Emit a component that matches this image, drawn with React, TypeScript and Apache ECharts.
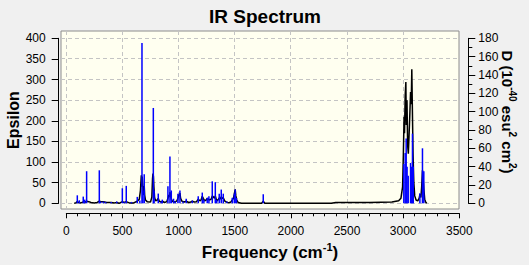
import React, { useEffect, useRef } from 'react';
import * as echarts from 'echarts';

// Broadened spectrum (Epsilon, left axis)
const curveX = [70, 85, 98, 110, 130, 151, 165, 181, 200, 220, 250, 275, 294, 310, 330, 360, 400, 430, 449, 470, 499, 515, 534, 560, 600, 632, 650, 660, 668, 672, 676, 681, 686, 690, 694, 698, 705, 720, 750, 762, 768, 772, 776, 780, 786, 795, 810, 819, 828, 845, 855, 875, 895, 905, 913, 918, 923, 928, 935, 945, 965, 985, 994, 1003, 1012, 1018, 1030, 1050, 1068, 1090, 1110, 1122, 1140, 1160, 1175, 1190, 1200, 1211, 1220, 1232, 1245, 1255, 1265, 1275, 1290, 1300, 1310, 1320, 1327, 1335, 1345, 1355, 1362, 1370, 1380, 1390, 1398, 1410, 1425, 1445, 1465, 1478, 1488, 1496, 1504, 1510, 1518, 1530, 1560, 1740, 1754, 1768, 2360, 2400, 2700, 2900, 2960, 2980, 2995, 3002, 3008, 3012, 3018, 3024, 3028, 3034, 3040, 3046, 3052, 3060, 3066, 3072, 3077, 3082, 3088, 3095, 3103, 3115, 3130, 3142, 3150, 3158, 3165, 3172, 3178, 3184, 3192, 3200, 3210];
const curveEps = [0, 1, 4, 2, 1, 3, 2, 5, 4, 2, 1, 2, 5, 4, 4, 2, 2, 1, 2, 0, 4, 2, 4, 1, 1, 5, 10, 30, 68, 40, 65, 45, 20, 30, 42, 20, 8, 4, 3, 15, 60, 72, 65, 40, 15, 6, 8, 12, 5, 3, 5, 2, 4, 12, 20, 15, 27, 20, 10, 5, 3, 6, 12, 20, 25, 12, 5, 3, 5, 2, 3, 5, 3, 4, 10, 6, 8, 17, 12, 6, 8, 12, 10, 8, 10, 18, 15, 12, 18, 10, 6, 10, 13, 10, 16, 12, 13, 6, 3, 1, 3, 8, 12, 22, 34, 18, 8, 2, 0, 0, 5, 0, 0, 2, 2, 3, 6, 12, 40, 120, 210, 170, 260, 294, 190, 250, 140, 120, 160, 220, 270, 240, 325, 230, 120, 50, 18, 8, 6, 12, 22, 14, 40, 80, 60, 35, 10, 3, 0];

// Stick spectrum (D, right axis)
const stickX = [98, 116, 151, 164, 181, 294, 305, 330, 350, 400, 449, 499, 515, 534, 580, 632, 655, 674, 682, 694, 775, 782, 819, 845, 855, 905, 923, 935, 955, 970, 994, 1012, 1040, 1068, 1122, 1175, 1211, 1225, 1255, 1270, 1300, 1327, 1340, 1362, 1380, 1398, 1430, 1478, 1496, 1504, 1515, 1754, 3006, 3018, 3027, 3035, 3045, 3066, 3072, 3083, 3090, 3149, 3172, 3184];
const stickD = [8.7, 3.3, 7.3, 4, 35, 36, 2, 2, 1.5, 1.5, 2, 16.4, 1.5, 19, 1.5, 7, 3, 175, 14, 31.6, 104, 14, 10.6, 2, 4, 18.5, 51, 14, 5, 2, 10.5, 14, 2, 5, 3, 7.6, 11.7, 4, 6, 7.6, 24, 23, 4, 10.5, 15, 10.5, 2, 6, 10.5, 15, 6, 9.8, 43, 55, 70.6, 40, 30, 44, 40, 76, 40, 11, 60, 35];

const FONT = '"Liberation Sans", Arial, sans-serif';
const plain = (v: number) => String(v);

export default function App() {
  const ref = useRef<HTMLDivElement>(null);
  useEffect(() => {
    document.body.style.margin = '0';
    document.body.style.background = '#f0f0f0';
    const chart = echarts.init(ref.current!, null, { renderer: 'svg' });
    const curveData = curveX.map((x, i) => [x, curveEps[i]]);
    const stickData = stickX.map((x, i) => [x, stickD[i]]);
    const dashed = { show: true, showMinLine: false, showMaxLine: false, lineStyle: { color: '#c4c4c4', type: [4, 3], width: 1 } };
    const option: any = {
      animation: false,
      backgroundColor: '#f0f0f0',
      textStyle: { fontFamily: FONT },
      title: {
        text: 'IR Spectrum', left: 260, top: 2, textAlign: 'center',
        textStyle: { fontSize: 19, fontWeight: 'bold', color: '#000', fontFamily: FONT },
      },
      grid: [
        { left: 61, top: 31, width: 398, height: 178, show: true, backgroundColor: '#fffff0', borderColor: '#8c8c8c', borderWidth: 1 },
        { left: 66.3, top: 38.3, width: 393, height: 165, show: false },
      ],
      xAxis: [
        { gridIndex: 0, type: 'value', min: -47, max: 3500, splitNumber: 7, axisLine: { show: false }, axisTick: { show: false }, axisLabel: { show: false }, splitLine: dashed },
        {
          gridIndex: 1, type: 'value', min: 0, max: 3500, interval: 500, position: 'bottom', offset: 10,
          axisLine: { show: true, onZero: false, lineStyle: { color: '#000', width: 1 } },
          axisTick: { show: true, length: 5, lineStyle: { color: '#000' } },
          minorTick: { show: true, splitNumber: 5, length: 3, lineStyle: { color: '#000' } },
          axisLabel: { color: '#000', fontSize: 12, margin: 12, fontFamily: FONT, formatter: plain },
          splitLine: { show: false },
        },
      ],
      yAxis: [
        { gridIndex: 0, type: 'value', min: -14.5, max: 417, splitNumber: 9, axisLine: { show: false }, axisTick: { show: false }, axisLabel: { show: false }, splitLine: dashed },
        {
          gridIndex: 1, type: 'value', min: 0, max: 400, interval: 50, position: 'left', offset: 7.6,
          axisLine: { show: true, onZero: false, lineStyle: { color: '#000', width: 1 } },
          axisTick: { show: true, length: 7, lineStyle: { color: '#000' } },
          axisLabel: { color: '#000', fontSize: 12, margin: 13, fontFamily: FONT, formatter: plain },
          splitLine: { show: false },
        },
        {
          gridIndex: 1, type: 'value', min: 0, max: 180, interval: 20, position: 'right', offset: 9,
          axisLine: { show: true, onZero: false, lineStyle: { color: '#000', width: 1 } },
          axisTick: { show: true, length: 7, lineStyle: { color: '#000' } },
          minorTick: { show: true, splitNumber: 2, length: 4, lineStyle: { color: '#000' } },
          axisLabel: { color: '#000', fontSize: 12, margin: 10, fontFamily: FONT, formatter: plain },
          splitLine: { show: false },
        },
      ],
      series: [
        {
          type: 'line', xAxisIndex: 1, yAxisIndex: 1, data: curveData, symbol: 'none', showSymbol: false,
          lineStyle: { color: '#000', width: 1.5 }, z: 3,
        },
        {
          type: 'custom', xAxisIndex: 1, yAxisIndex: 2, data: stickData, z: 4,
          encode: { x: 0, y: 1 },
          renderItem: (params: any, api: any) => {
            const x = api.value(0);
            const y = api.value(1);
            const p0 = api.coord([x, 0]);
            const p1 = api.coord([x, y]);
            return {
              type: 'line',
              shape: { x1: p0[0], y1: p0[1], x2: p1[0], y2: p1[1] },
              style: { stroke: '#0000ff', lineWidth: 1.5 },
            };
          },
        },
      ],
      graphic: [
        {
          type: 'text', x: 13, y: 120, rotation: Math.PI / 2,
          style: { text: 'Epsilon', fontSize: 16, fontWeight: 'bold', fontFamily: FONT, fill: '#000', align: 'center', verticalAlign: 'middle' },
        },
        {
          type: 'text', x: 270, y: 252,
          style: {
            text: '{a|Frequency (cm}{s|-1}{a|)}', align: 'center', verticalAlign: 'middle', fill: '#000',
            rich: {
              a: { fontSize: 17, fontWeight: 'bold', fontFamily: FONT, fill: '#000', lineHeight: 22 },
              s: { fontSize: 11, fontWeight: 'bold', fontFamily: FONT, fill: '#000', lineHeight: 11, verticalAlign: 'top' },
            },
          },
        },
        {
          type: 'text', x: 507, y: 112, rotation: -Math.PI / 2,
          style: {
            text: '{a|D (10}{s|-40}{a| esu}{s|2}{a| cm}{s|2}{a|)}', align: 'center', verticalAlign: 'middle', fill: '#000',
            rich: {
              a: { fontSize: 15, fontWeight: 'bold', fontFamily: FONT, fill: '#000', lineHeight: 20 },
              s: { fontSize: 10, fontWeight: 'bold', fontFamily: FONT, fill: '#000', lineHeight: 10, verticalAlign: 'top' },
            },
          },
        },
      ],
    };
    chart.setOption(option);
    return () => chart.dispose();
  }, []);
  return <div ref={ref} style={{ width: 529, height: 265 }} />;
}
